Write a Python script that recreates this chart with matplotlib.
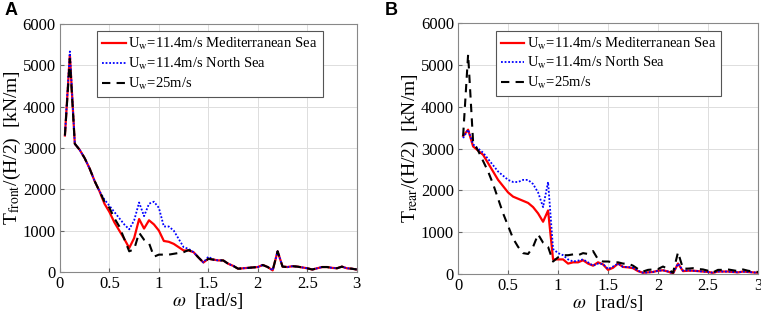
import numpy as np
import matplotlib
matplotlib.use("Agg")
import matplotlib.pyplot as plt

plt.rcParams["font.family"] = "Liberation Serif"
plt.rcParams["mathtext.fontset"] = "stix"

omega = np.round(np.arange(1, 61) * 0.05, 2)

# panel A: front tension
front_med = [3300, 5250, 3100, 2950, 2750, 2500, 2200, 1950, 1650, 1450,
             1200, 1000, 800, 580, 820, 1280, 1050, 1250, 1150, 1000,
             750, 730, 680, 600, 520, 520, 480, 350, 230, 320,
             300, 280, 280, 200, 150, 80, 90, 100, 110, 120,
             170, 120, 40, 500, 130, 120, 140, 130, 110, 90,
             60, 90, 120, 120, 100, 90, 130, 90, 80, 60]
front_north = [3300, 5330, 3100, 2950, 2750, 2500, 2200, 1950, 1750, 1600,
               1450, 1300, 1150, 1030, 1250, 1680, 1350, 1650, 1700, 1550,
               1100, 1100, 1000, 800, 600, 560, 480, 350, 230, 370,
               300, 280, 280, 200, 150, 80, 90, 100, 110, 120,
               170, 120, 40, 500, 130, 120, 140, 130, 110, 90,
               60, 90, 120, 120, 100, 90, 130, 90, 80, 60]
front_25 = [3300, 5150, 3100, 2950, 2750, 2500, 2200, 1950, 1700, 1550,
            1300, 1100, 800, 500, 550, 950, 780, 700, 370, 420,
            420, 420, 440, 460, 480, 530, 480, 350, 230, 320,
            300, 280, 280, 200, 150, 80, 90, 100, 110, 120,
            170, 120, 40, 500, 130, 120, 140, 130, 110, 90,
            60, 90, 120, 120, 100, 90, 130, 90, 80, 60]

# panel B: rear tension
rear_med = [3300, 3450, 3050, 2950, 2850, 2650, 2450, 2250, 2100, 1950,
            1850, 1800, 1750, 1700, 1600, 1450, 1250, 1520, 350, 350,
            350, 250, 280, 280, 330, 250, 200, 280, 230, 100,
            150, 250, 170, 160, 140, 70, 30, 40, 50, 80,
            90, 60, 10, 250, 70, 80, 80, 70, 60, 50,
            30, 60, 60, 60, 50, 40, 60, 50, 40, 30]
rear_north = [3250, 3450, 3100, 3000, 2900, 2750, 2600, 2450, 2350, 2250,
              2200, 2200, 2250, 2250, 2150, 1950, 1600, 2200, 600, 500,
              450, 350, 300, 320, 350, 280, 200, 250, 240, 120,
              180, 250, 170, 170, 150, 80, 30, 40, 50, 80,
              90, 60, 20, 250, 80, 90, 80, 70, 60, 50,
              30, 60, 60, 60, 50, 40, 60, 50, 40, 30]
rear_25 = [3300, 5250, 3150, 2950, 2700, 2450, 2150, 1800, 1450, 1150,
           850, 650, 500, 480, 650, 950, 750, 650, 300, 400,
           450, 450, 470, 450, 500, 480, 550, 350, 300, 300,
           280, 280, 250, 250, 200, 120, 60, 100, 110, 120,
           180, 120, 30, 520, 130, 130, 140, 120, 110, 80,
           40, 100, 100, 110, 90, 70, 110, 80, 60, 50]

labels = [r"U$_{\rm w}$=11.4m/s Mediterranean Sea",
          r"U$_{\rm w}$=11.4m/s North Sea",
          r"U$_{\rm w}$=25m/s"]
ylabels = [r"T$_{\rm front}$/(H/2)  [kN/m]", r"T$_{\rm rear}$/(H/2)  [kN/m]"]

fig = plt.figure(figsize=(7.61, 3.15), dpi=100)
ax1 = fig.add_axes([0.0788, 0.1365, 0.390, 0.788])
ax2 = fig.add_axes([0.602, 0.130, 0.394, 0.797])

panels = [(ax1, front_med, front_north, front_25, "A", 0.006),
          (ax2, rear_med, rear_north, rear_25, "B", 0.506)]

for i, (ax, med, north, w25, tag, tx) in enumerate(panels):
    ax.plot(omega, med, color="red", lw=1.6, label=labels[0])
    ax.plot(omega, north, color="blue", lw=1.3, ls=(0, (1, 1)), label=labels[1])
    ax.plot(omega, w25, color="black", lw=1.5, ls=(0, (4, 3)), label=labels[2])
    ax.set_xlim(0, 3)
    ax.set_ylim(0, 6000)
    ax.set_xticks([0, 0.5, 1, 1.5, 2, 2.5, 3])
    ax.set_xticklabels(["0", "0.5", "1", "1.5", "2", "2.5", "3"])
    ax.set_yticks([0, 1000, 2000, 3000, 4000, 5000, 6000])
    ax.grid(True, color="#dddddd", lw=0.7)
    ax.tick_params(direction="in", length=3, labelsize=12, color="#666666", pad=3)
    for sp in ax.spines.values():
        sp.set_color("#888888")
        sp.set_linewidth(0.8)
    ax.set_xlabel(r"$\omega$  [rad/s]", fontsize=13.5, labelpad=-1)
    ax.set_ylabel(ylabels[i], fontsize=14, labelpad=0)
    leg = ax.legend(loc="upper left", bbox_to_anchor=(0.125, 0.97), fontsize=10.5,
                    fancybox=False, framealpha=1, edgecolor="#555555",
                    handlelength=1.6, handletextpad=0.2, borderpad=0.35,
                    labelspacing=0.25, borderaxespad=0)
    leg.get_frame().set_linewidth(0.8)
    fig.text(tx, 0.995, tag, fontsize=13, fontweight="bold",
             family="Liberation Sans", va="top", ha="left")

fig.savefig("out.png", dpi=100)
